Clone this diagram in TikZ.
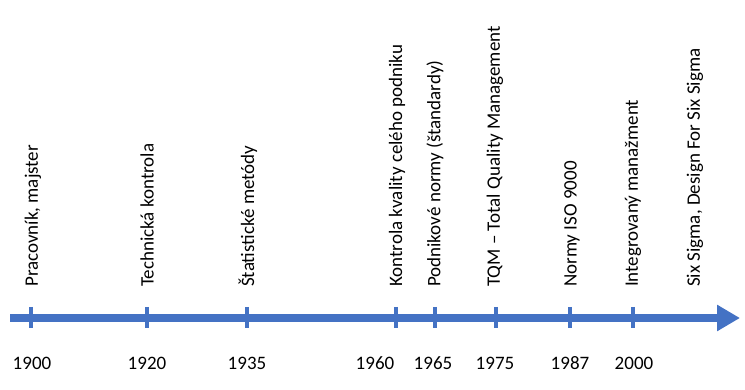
\documentclass[tikz,border=0pt]{standalone}
\usepackage{fontspec}
\setmainfont{Carlito}
\usetikzlibrary{arrows.meta}
\definecolor{axisblue}{HTML}{4472C4}
\begin{document}
\begin{tikzpicture}[x=1pt,y=-1pt,
  axis/.style={draw=axisblue,line width=8pt,-{Triangle[length=23pt,width=25pt]}},
  tickmark/.style={draw=axisblue,line width=3.5pt},
  yearlbl/.style={anchor=base,inner sep=0pt,font=\fontsize{19}{22}\selectfont},
  eventlbl/.style={anchor=west,rotate=90,inner sep=0pt,font=\fontsize{19}{22}\selectfont}]
\useasboundingbox (0,0) rectangle (745,390);
\coordinate (start) at (10,318);
\coordinate (end) at (740,318);
\draw[axis] (start) -- (end);
\foreach \n/\x in {a/31,b/147,c/247,d/396,e/435,f/496,g/570,h/633}{
  \coordinate (t\n top) at (\x,307);
  \coordinate (t\n bot) at (\x,328);
  \draw[tickmark] (t\n top) -- (t\n bot);
}
\node[yearlbl] (y1900) at (32,370) {1900};
\node[yearlbl] (y1920) at (147,370) {1920};
\node[yearlbl] (y1935) at (247,370) {1935};
\node[yearlbl] (y1960) at (375,370) {1960};
\node[yearlbl] (y1965) at (433,370) {1965};
\node[yearlbl] (y1975) at (495,370) {1975};
\node[yearlbl] (y1987) at (570,370) {1987};
\node[yearlbl] (y2000) at (634,370) {2000};
\node[eventlbl] (e1) at (33,287) {Pracovník, majster};
\node[eventlbl] (e2) at (147,287) {Technická kontrola};
\node[eventlbl] (e3) at (248,287) {Štatistické metódy};
\node[eventlbl] (e4) at (397,287) {Kontrola kvality celého podniku};
\node[eventlbl] (e5) at (435,287) {Podnikové normy (štandardy)};
\node[eventlbl] (e6) at (495,287) {TQM – Total Quality Management};
\node[eventlbl] (e7) at (572,287) {Normy ISO 9000};
\node[eventlbl] (e8) at (633,287) {Integrovaný manažment};
\node[eventlbl] (e9) at (695,287) {Six Sigma, Design For Six Sigma};
\end{tikzpicture}
\end{document}
